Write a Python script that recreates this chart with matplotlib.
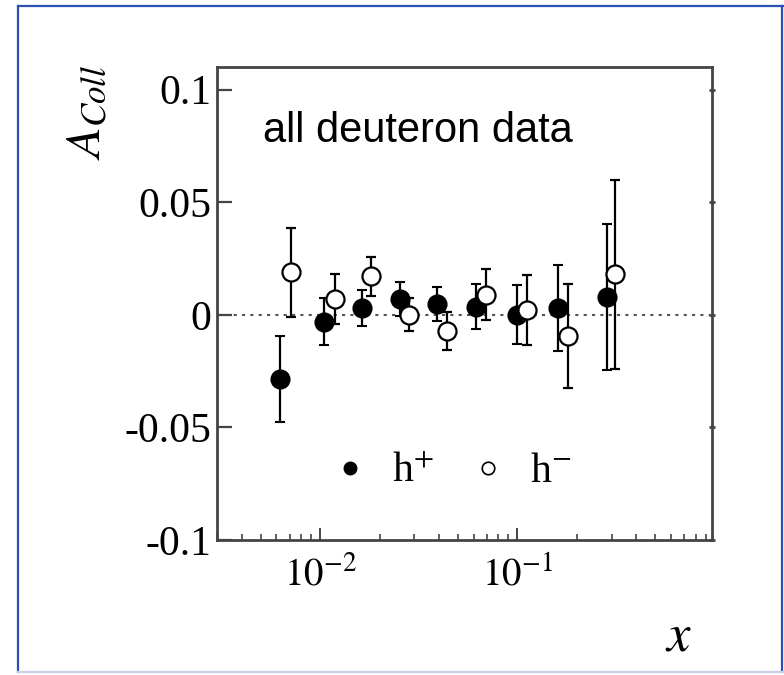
import numpy as np
import matplotlib
matplotlib.use("Agg")
import matplotlib.pyplot as plt
from matplotlib.lines import Line2D

plt.rcParams['mathtext.fontset'] = 'stix'
plt.rcParams['font.family'] = 'Liberation Serif'

# h+ (filled)
x_pos = [0.00626, 0.0105, 0.0163, 0.0255, 0.0393, 0.0619, 0.100, 0.160, 0.283]
a_pos = [-0.0286, -0.003, 0.003, 0.0071, 0.0049, 0.0036, 0.0, 0.003, 0.008]
e_pos = [0.019, 0.0105, 0.008, 0.0075, 0.0075, 0.010, 0.013, 0.019, 0.0325]

# h- (open)
x_neg = [0.00713, 0.0119, 0.0182, 0.0283, 0.0442, 0.0696, 0.1124, 0.1795, 0.314]
a_neg = [0.0188, 0.0071, 0.017, 0.0, -0.0071, 0.009, 0.0022, -0.0094, 0.0179]
e_neg = [0.0197, 0.011, 0.0087, 0.0073, 0.0085, 0.0112, 0.0154, 0.023, 0.042]

yticks = [-0.1, -0.05, 0, 0.05, 0.1]
ytick_labels = ["-0.1", "-0.05", "0", "0.05", "0.1"]

fig = plt.figure(figsize=(7.84, 6.75), dpi=100)
ax = fig.add_axes([0.2768, 0.2, 0.9082 - 0.2768, 0.9007 - 0.2])

ax.axhline(0, color="#555555", linestyle=(0, (1.5, 2.5)), lw=1.5, zorder=1)

ax.errorbar(x_pos, a_pos, yerr=e_pos, fmt="o", color="black", ms=13,
            mfc="black", mec="black", mew=1.5, elinewidth=1.6, capsize=3.5,
            capthick=1.6, zorder=3)
ax.errorbar(x_neg, a_neg, yerr=e_neg, fmt="o", color="black", ms=13,
            mfc="white", mec="black", mew=1.6, elinewidth=1.6, capsize=3.5,
            capthick=1.6, zorder=4)

ax.set_xscale("log")
ax.set_xlim(0.003, 0.97)
ax.set_ylim(-0.1, 0.11)
ax.set_yticks(yticks)
ax.set_yticklabels(ytick_labels)
ax.set_xticks([0.01, 0.1])
ax.set_xticklabels([r"$\mathrm{10^{-2}}$", r"$\mathrm{10^{-1}}$"])

for s in ax.spines.values():
    s.set_color("#444444")
    s.set_linewidth(2)

ax.tick_params(axis="y", which="major", direction="in", length=11, width=1.6,
               labelsize=30, pad=4, color="#444444", right=False)
ax.tick_params(axis="x", which="major", direction="in", length=9, width=1.4,
               labelsize=28, pad=12, color="#444444", top=False)
ax.tick_params(axis="x", which="minor", direction="in", length=4, width=1.2,
               color="#444444", top=False)

# short marks on the right edge
sec = ax.secondary_yaxis("right")
sec.set_yticks(yticks)
sec.tick_params(direction="inout", length=5, width=2, color="#444444",
                labelright=False)
sec.spines["right"].set_visible(False)

ax.text(0.093, 0.841, "all deuteron data", transform=ax.transAxes,
        fontsize=30, family="Liberation Sans", va="baseline", ha="left")

handles = [Line2D([], [], marker="o", ls="none", ms=9, mfc="black", mec="black"),
           Line2D([], [], marker="o", ls="none", ms=9, mfc="white", mec="black", mew=1.2)]
ax.legend(handles, [r"h$^{+}$", r"h$^{-}$"], loc="center",
          bbox_to_anchor=(0.48, 0.144), ncol=2, frameon=False,
          prop={"family": "Liberation Serif", "size": 30},
          handlelength=0.6, handletextpad=0.7, columnspacing=1.0)

fig.text(0.112, 0.834, r"$A_{Coll}$", rotation=90, fontsize=36,
         ha="center", va="center")
fig.text(0.865, 0.055, r"$x$", fontsize=38, ha="center", va="center")

# blue frame around the figure
blue = "#2b4fb5"
fig.add_artist(Line2D([0.023, 0.023], [0.004, 0.991], color=blue, lw=1.6, transform=fig.transFigure))
fig.add_artist(Line2D([0.023, 0.999], [0.991, 0.991], color=blue, lw=1.6, transform=fig.transFigure))
fig.add_artist(Line2D([0.998, 0.998], [0.004, 0.991], color=blue, lw=1.6, transform=fig.transFigure))
fig.add_artist(Line2D([0.023, 0.999], [0.004, 0.004], color="#c8cfe8", lw=1.6, transform=fig.transFigure))

fig.savefig("out.png", dpi=100)
